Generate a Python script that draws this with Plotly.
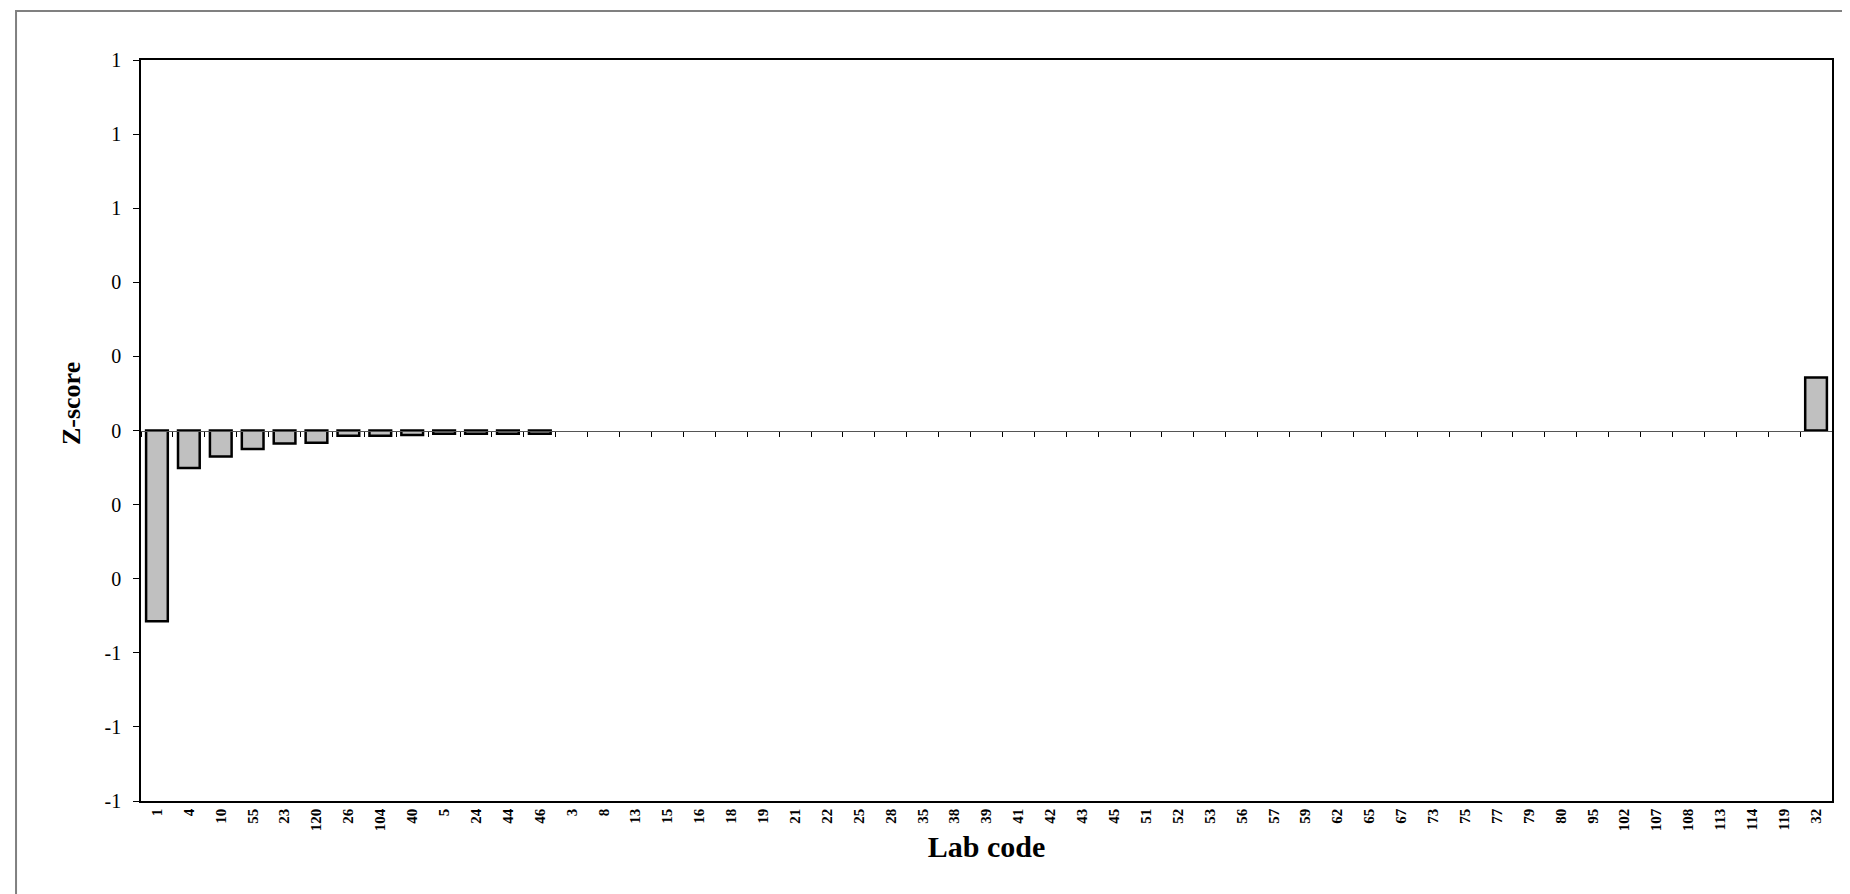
import plotly.graph_objects as go

lab_codes = ["1", "4", "10", "55", "23", "120", "26", "104", "40", "5", "24", "44", "46",
             "3", "8", "13", "15", "16", "18", "19", "21", "22", "25", "28", "35", "38",
             "39", "41", "42", "43", "45", "51", "52", "53", "56", "57", "59", "62", "65",
             "67", "73", "75", "77", "79", "80", "95", "102", "107", "108", "113", "114",
             "119", "32"]
z_scores = [-0.515, -0.101, -0.070, -0.050, -0.035, -0.033, -0.014, -0.014, -0.012,
            -0.009, -0.009, -0.009, -0.009,
            0, 0, 0, 0, 0, 0, 0, 0, 0, 0, 0, 0, 0, 0, 0, 0, 0, 0, 0, 0, 0, 0, 0, 0, 0,
            0, 0, 0, 0, 0, 0, 0, 0, 0, 0, 0, 0, 0, 0, 0.143]
y_tick_vals = [-1.0, -0.8, -0.6, -0.4, -0.2, 0.0, 0.2, 0.4, 0.6, 0.8, 1.0]
y_tick_text = ["-1", "-1", "-1", "0", "0", "0", "0", "0", "1", "1", "1"]

FONT = "Liberation Serif, Times New Roman, serif"
n = len(lab_codes)
x_range = [-0.5, n - 0.5]

# zero-valued bars show no outline
line_widths = [2.5 if v != 0 else 0 for v in z_scores]

fig = go.Figure()
fig.add_trace(go.Bar(
    x=lab_codes, y=z_scores,
    marker=dict(color="#C0C0C0", line=dict(color="black", width=line_widths)),
    width=0.68, showlegend=False, hoverinfo="x+y",
))
# helper trace for the zero-line axis carrying the category tick marks
fig.add_trace(go.Scatter(
    x=lab_codes, y=[None] * n, xaxis="x2", yaxis="y",
    mode="markers", showlegend=False, hoverinfo="skip",
))

fig.update_layout(
    width=1850, height=894,
    paper_bgcolor="white", plot_bgcolor="white",
    margin=dict(l=133, r=26, t=52, b=101),
    font=dict(family=FONT, color="black"),
    xaxis=dict(
        type="category", categoryorder="array", categoryarray=lab_codes,
        range=x_range,
        showline=True, linecolor="black", linewidth=1.5, mirror=True,
        ticks="", tickangle=-90,
        tickfont=dict(family=FONT, size=15, color="black", weight="bold"),
        showgrid=False, zeroline=False,
        title=dict(text="<b>Lab code</b>", font=dict(family=FONT, size=30), standoff=6),
    ),
    xaxis2=dict(
        type="category", categoryorder="array", categoryarray=lab_codes,
        range=x_range,
        overlaying="x", anchor="free", position=0.5, side="bottom",
        showline=True, linecolor="#555555", linewidth=1.2,
        ticks="outside", ticklen=5, tickcolor="black", tickwidth=1,
        tickson="boundaries", showticklabels=False, showgrid=False, zeroline=False,
    ),
    yaxis=dict(
        range=[-1, 1], tickvals=y_tick_vals, ticktext=y_tick_text,
        showline=True, linecolor="black", linewidth=1.5, mirror=True,
        ticks="outside", ticklen=6, tickcolor="black",
        tickfont=dict(family=FONT, size=20, color="black"),
        ticklabelstandoff=8,
        showgrid=False, zeroline=False,
    ),
    bargap=0.32,
    annotations=[dict(
        text="<b>Z-score</b>", textangle=-90, showarrow=False,
        xref="paper", yref="paper", x=-0.0414, y=0.537,
        xanchor="center", yanchor="middle",
        font=dict(family=FONT, size=26, color="black"),
    )],
)

# outer chart frame
fig.add_shape(type="rect", xref="paper", yref="paper",
              x0=-0.0739, x1=1.03, y0=-0.2, y1=1.066,
              line=dict(color="#808080", width=2), layer="below")

fig.write_html("out.html")
